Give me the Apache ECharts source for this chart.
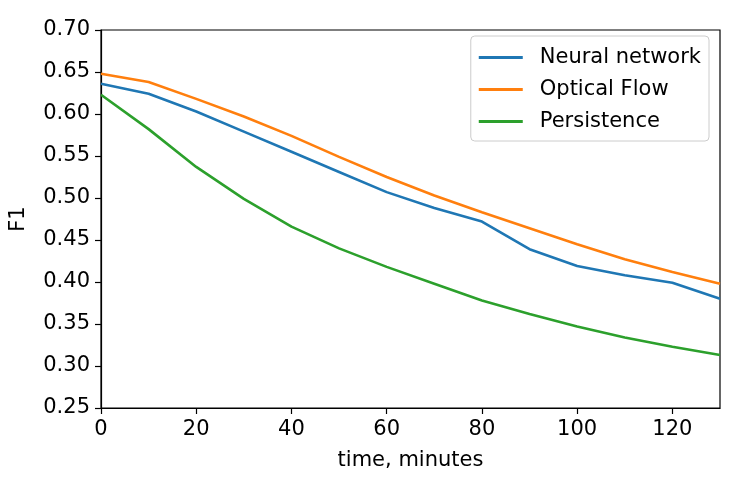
<!DOCTYPE html>
<html>
<head>
<meta charset="utf-8">
<script src="https://cdn.jsdelivr.net/npm/echarts@6/dist/echarts.min.js"></script>
<style>
  html, body { margin: 0; padding: 0; background: #fff; }
  #chart { width: 750px; height: 495px; }
</style>
</head>
<body>
<div id="chart"></div>
<script>
// time in minutes
const minutes = [0, 10, 20, 30, 40, 50, 60, 70, 80, 90, 100, 110, 120, 130];
const neuralNetwork = [0.636, 0.624, 0.603, 0.579, 0.555, 0.531, 0.507, 0.488, 0.472, 0.439, 0.419, 0.408, 0.399, 0.380];
const opticalFlow = [0.648, 0.638, 0.618, 0.597, 0.574, 0.549, 0.525, 0.503, 0.483, 0.464, 0.445, 0.427, 0.412, 0.398];
const persistence = [0.623, 0.582, 0.537, 0.499, 0.466, 0.440, 0.418, 0.398, 0.378, 0.362, 0.347, 0.334, 0.323, 0.313];

const font = 'DejaVu Sans';
const pairs = (vals) => minutes.map((m, i) => [m, vals[i]]);

const makeLine = (name, color, vals) => ({
  name: name,
  type: 'line',
  symbol: 'none',
  data: pairs(vals),
  lineStyle: {color: color, width: 2.6},
  itemStyle: {color: color}
});

const chart = echarts.init(document.getElementById('chart'));
chart.setOption({
  animation: false,
  textStyle: {fontFamily: font},
  grid: {
    left: 98, right: 30, top: 30, bottom: 87,
    show: true, borderColor: '#000', borderWidth: 1.2
  },
  legend: {
    orient: 'vertical',
    right: 41,
    top: 36,
    padding: [11, 8, 9, 8],
    icon: 'rect',
    itemWidth: 44,
    itemHeight: 3,
    itemGap: 11,
    borderColor: '#ccc',
    borderWidth: 1,
    borderRadius: 4,
    textStyle: {fontFamily: font, fontSize: 21, color: '#000', padding: [0, 0, 0, 12]},
    data: ['Neural network', 'Optical Flow', 'Persistence']
  },
  xAxis: {
    type: 'value',
    min: 0, max: 130, interval: 20,
    name: 'time, minutes',
    nameLocation: 'middle',
    nameGap: 42,
    nameTextStyle: {fontFamily: font, fontSize: 21, color: '#000'},
    splitLine: {show: false},
    axisLine: {lineStyle: {color: '#000', width: 1.2}},
    axisTick: {length: 6, lineStyle: {color: '#000', width: 1.2}},
    axisLabel: {showMaxLabel: false, fontFamily: font, fontSize: 21, color: '#000', margin: 11}
  },
  yAxis: {
    type: 'value',
    min: 0.25, max: 0.70, interval: 0.05,
    name: 'F1',
    nameLocation: 'middle',
    nameGap: 72,
    nameTextStyle: {fontFamily: font, fontSize: 21, color: '#000'},
    splitLine: {show: false},
    axisLine: {show: true, lineStyle: {color: '#000', width: 1.2}},
    axisTick: {show: true, length: 6, lineStyle: {color: '#000', width: 1.2}},
    axisLabel: {
      fontFamily: font, fontSize: 21, color: '#000', margin: 11,
      formatter: (v) => v.toFixed(2)
    }
  },
  series: [
    makeLine('Neural network', '#1f77b4', neuralNetwork),
    makeLine('Optical Flow', '#ff7f0e', opticalFlow),
    makeLine('Persistence', '#2ca02c', persistence)
  ]
});
</script>
</body>
</html>
